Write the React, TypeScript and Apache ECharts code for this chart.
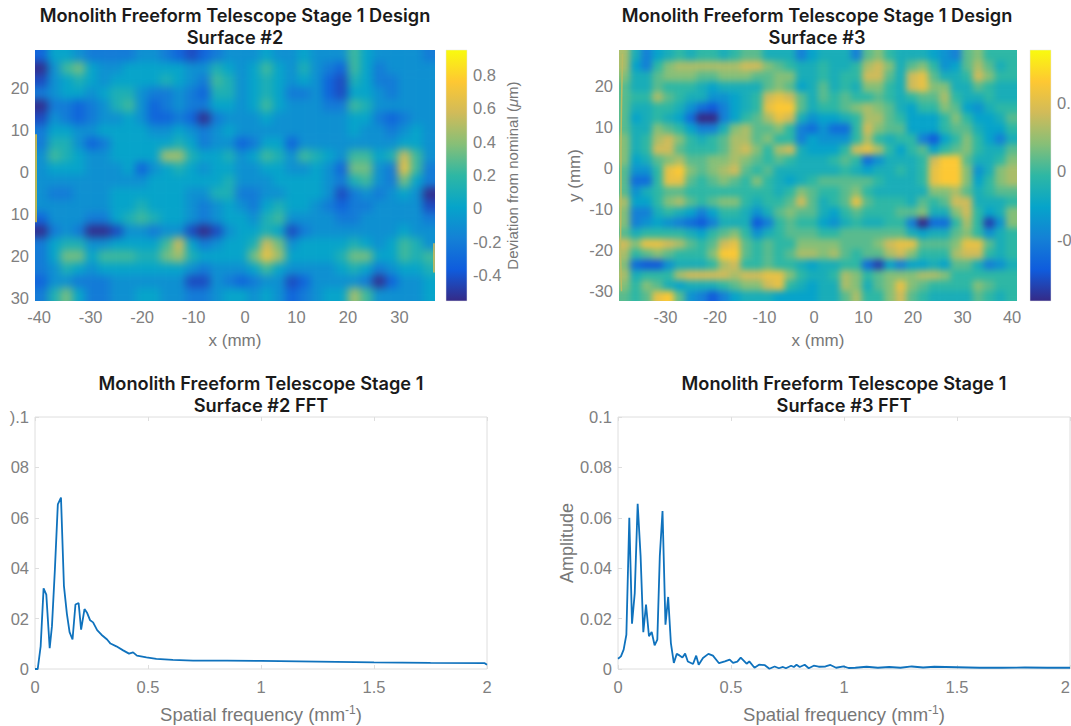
import React, { useEffect, useRef } from "react";
import * as echarts from "echarts";

const parula = ["#352a87", "#0f5cdd", "#1481d6", "#06a4ca", "#2eb7a4", "#87bf77", "#d1bb59", "#fec832", "#f9fb0e"];

// Surface #2, deviation in units of 0.1 um, rows top to bottom, columns left to right
const surface2: number[][] = [
  [-2,1,1,0,-1,-1,-1,-1,0,0,-1,-2,-3,-2,-1,0,0,0,1,0,0,1,0,0,0,3,1,0,0,0,0,-1],
  [-4,0,3,4,1,0,0,1,1,1,1,1,0,0,2,1,0,1,3,1,0,2,0,-1,-2,3,1,-1,0,0,0,0],
  [-3,0,1,2,1,0,1,1,1,1,2,1,0,-1,3,2,0,1,2,1,0,1,0,-2,-3,2,1,-1,-1,0,0,0],
  [-1,0,1,1,0,1,2,2,0,-1,-1,0,-1,-2,2,2,0,1,2,1,-1,-1,0,-2,-3,1,1,0,-1,0,0,0],
  [-4,-1,-1,-2,-1,0,2,3,0,-2,-1,0,-1,-1,1,1,0,1,3,1,0,0,0,-1,-1,3,2,0,0,0,0,0],
  [-3,0,-1,-2,-1,0,0,1,0,-2,-2,-1,-2,-4,-1,0,0,0,1,0,0,0,0,0,0,1,1,-1,-2,-1,0,0],
  [-1,1,1,0,0,1,1,1,1,0,0,1,0,-1,0,1,0,0,0,0,0,0,0,0,0,1,0,0,-1,0,1,0],
  [-1,2,2,0,-2,-1,1,1,1,1,1,2,1,-1,0,0,-2,-1,1,1,-2,0,0,0,0,0,0,0,0,1,1,0],
  [0,3,2,1,0,0,1,1,1,1,5,5,2,1,1,2,0,1,3,2,0,3,2,1,0,3,3,1,2,6,3,0],
  [0,1,1,1,0,0,0,1,-2,0,1,2,1,0,1,1,0,0,1,1,0,0,1,0,-2,4,4,0,-1,7,3,-1],
  [0,0,0,0,0,0,0,0,0,1,1,1,1,1,1,2,0,0,0,1,1,1,1,0,-1,2,3,0,-1,4,1,-1],
  [0,-1,-1,0,0,0,1,1,1,1,1,1,0,0,2,2,-1,-1,0,0,1,1,1,0,-3,-1,0,-1,0,1,0,-4],
  [0,0,0,0,0,0,1,1,2,1,1,1,0,-1,0,1,0,-1,1,2,1,1,0,-1,-2,-1,-1,0,0,0,0,-3],
  [-2,0,0,0,-1,-1,1,2,3,2,1,1,0,-1,0,1,1,0,2,3,0,0,0,0,-1,-1,0,0,0,0,0,-1],
  [-4,-1,0,-1,-4,-4,-3,0,0,-1,0,0,-3,-5,-3,0,1,1,2,1,-3,-1,0,0,0,0,0,0,0,1,0,0],
  [-1,1,2,2,0,0,1,1,1,1,3,6,1,-1,0,1,1,2,6,4,0,1,1,1,1,2,1,0,1,3,2,0],
  [-1,1,4,4,1,3,3,3,2,2,4,5,2,1,1,1,1,4,7,5,1,1,1,1,2,4,4,1,1,3,2,3],
  [-1,0,2,1,0,1,1,1,1,1,1,1,0,-1,0,0,0,1,3,1,0,0,0,0,1,2,1,-1,0,1,1,2],
  [-2,0,0,-1,-1,-1,0,0,0,0,0,0,-3,-3,0,-1,-2,-1,0,0,-3,-2,0,0,0,0,-1,-4,-2,0,0,1],
  [-1,2,4,1,-1,-1,0,0,1,1,0,0,-1,-1,0,1,1,0,1,0,-2,-1,0,1,1,5,3,0,0,0,0,1],
];

// Surface #3, same units
const surface3: number[][] = [
  [4,0,-3,-1,0,1,0,1,1,0,1,2,2,0,0,0,-3,-1,0,0,0,-3,2,3,1,0,0,0,-1,-2,-3,2,3,1,1,1],
  [4,-1,-3,1,3,4,4,4,4,4,4,5,5,3,2,1,0,0,1,0,0,1,4,5,3,0,2,3,1,-2,-1,2,4,2,0,1],
  [3,0,0,2,3,3,3,2,2,3,3,3,2,2,3,3,0,0,1,0,1,1,5,5,2,0,5,6,2,0,0,1,5,3,1,1],
  [2,0,0,2,1,1,1,0,-1,0,0,0,0,2,3,2,-1,0,2,0,1,0,3,3,1,0,5,6,3,3,0,0,2,1,0,0],
  [2,1,1,4,2,1,0,0,-2,-2,-1,0,1,5,6,5,2,0,2,1,2,1,1,2,1,0,1,2,2,4,1,0,0,1,0,0],
  [2,0,0,1,1,0,-2,-4,-5,-3,-1,0,1,6,7,7,2,0,1,1,2,3,4,3,2,0,-1,1,1,3,2,-1,-2,0,1,1],
  [2,-1,0,1,0,-1,-4,-9,-7,-3,-1,1,2,4,6,5,0,-2,-1,-1,0,1,4,4,2,1,-1,-1,-1,1,3,1,-1,-1,0,2],
  [2,0,0,3,2,1,-1,-3,-3,0,3,4,2,2,3,1,-3,-4,-2,-4,-4,1,5,3,2,2,-1,-1,-1,1,2,2,0,-1,-1,1],
  [3,0,1,4,5,3,1,0,1,2,4,4,2,3,1,1,-3,-1,-2,-2,-2,1,4,1,0,1,1,-3,-5,-1,1,3,1,-1,-3,0],
  [3,0,1,5,5,2,1,1,1,2,4,5,3,1,4,5,0,-1,-1,-1,1,5,6,4,1,-1,1,2,-1,1,2,3,1,0,0,2],
  [3,-1,0,2,3,4,2,2,3,3,4,3,2,1,2,1,0,0,0,1,2,1,-4,-2,0,0,0,1,5,7,7,2,0,0,1,3],
  [2,-2,-2,1,6,7,3,2,3,4,5,2,1,2,0,0,0,0,0,0,1,0,-1,0,0,1,0,1,6,7,7,3,-2,0,3,4],
  [2,-4,-4,1,6,6,2,1,2,3,2,1,3,1,0,-1,0,1,2,2,2,2,2,1,0,0,0,1,6,7,7,3,-1,1,3,4],
  [2,-2,0,1,2,2,1,1,1,1,1,1,1,1,0,1,3,2,1,1,2,3,1,0,0,0,0,0,3,3,4,2,0,1,2,2],
  [4,-1,-1,1,3,4,2,1,2,3,3,1,0,1,1,2,5,2,0,1,2,6,2,1,1,1,0,2,1,2,5,5,0,0,0,1],
  [3,-3,-3,0,1,0,-1,-3,-1,1,1,0,-2,0,2,3,2,2,0,-1,1,2,1,1,1,2,2,3,0,0,3,5,1,-1,0,3],
  [3,-3,-2,-1,-2,-3,-4,-5,-3,0,0,0,-5,-3,1,2,1,1,-1,-2,0,1,0,0,1,1,-3,-9,-4,-4,1,4,1,-6,-2,3],
  [2,0,1,1,1,1,0,-1,1,2,3,1,-2,0,1,2,2,2,1,1,2,2,2,2,2,2,0,-1,0,0,2,3,1,-2,0,1],
  [5,3,6,6,5,4,2,1,2,5,6,2,1,2,1,1,3,3,3,3,2,2,2,3,5,6,6,2,2,2,3,6,6,2,0,1],
  [4,1,2,3,2,1,1,1,3,7,7,2,1,2,1,2,4,4,3,4,2,1,2,2,4,5,3,1,1,1,4,5,5,1,0,1],
  [3,-4,-5,-5,-2,0,0,0,1,4,5,1,1,2,1,1,0,-1,0,0,1,1,-4,-6,-1,-3,-1,-1,0,-1,2,2,0,-3,-2,0],
  [4,0,1,1,1,4,5,5,5,5,4,5,5,6,6,3,1,0,0,1,4,3,1,2,3,3,3,4,4,3,1,1,1,1,1,1],
  [3,1,3,2,0,-1,0,0,0,1,2,3,3,5,6,1,0,-1,0,0,4,3,0,2,3,6,3,2,1,1,1,1,3,2,1,1],
  [2,1,2,6,7,2,-2,-3,-5,-3,-1,0,0,0,-1,-1,-1,-1,0,0,2,4,1,1,3,5,2,1,0,0,0,0,2,1,0,1],
];

const fft2Freq = [0,0.012,0.025,0.038,0.05,0.065,0.075,0.088,0.101,0.115,0.128,0.141,0.153,0.166,0.179,0.193,0.204,0.219,0.231,0.244,0.257,0.275,0.294,0.319,0.334,0.36,0.39,0.416,0.434,0.451,0.493,0.537,0.61,0.7,0.85,1,1.25,1.5,1.75,1.99,2];
const fft2Amp = [0,0,0.009,0.032,0.0295,0.0083,0.017,0.0395,0.0653,0.068,0.033,0.022,0.0146,0.0117,0.0256,0.0262,0.0156,0.0238,0.0222,0.0193,0.0185,0.0154,0.0136,0.0117,0.0101,0.009,0.0074,0.0061,0.0066,0.0053,0.0046,0.004,0.0036,0.0033,0.0033,0.0032,0.0029,0.0026,0.0024,0.0023,0.0017];

const fft3Freq = [0,0.013,0.025,0.037,0.05,0.062,0.074,0.087,0.1,0.112,0.124,0.137,0.149,0.162,0.174,0.185,0.197,0.21,0.222,0.234,0.247,0.26,0.272,0.285,0.297,0.309,0.332,0.346,0.357,0.376,0.4,0.42,0.447,0.473,0.494,0.509,0.528,0.543,0.569,0.581,0.604,0.624,0.65,0.67,0.693,0.712,0.73,0.743,0.766,0.778,0.79,0.804,0.826,0.844,0.866,0.888,0.918,0.94,0.965,0.998,1.02,1.05,1.1,1.15,1.2,1.25,1.3,1.35,1.4,1.45,1.5,1.6,1.7,1.8,1.9,2];
const fft3Amp = [0.0041,0.005,0.0077,0.0136,0.06,0.018,0.03,0.0656,0.0448,0.0146,0.0256,0.013,0.0147,0.0094,0.0117,0.0448,0.0627,0.0176,0.0286,0.0103,0.0024,0.006,0.0054,0.0046,0.0061,0.003,0.002,0.0053,0.0017,0.0044,0.006,0.0053,0.0023,0.003,0.0037,0.0024,0.0029,0.0045,0.0021,0.003,0.0005,0.0017,0.0015,0.0001,0.001,0.0003,0.0008,0.0003,0.0013,0.0008,0.0017,0.0008,0.0017,0.0003,0.0013,0.0009,0.001,0.0016,0.0005,0.001,0.0004,0.0005,0.0009,0.0005,0.0008,0.0005,0.001,0.0006,0.0009,0.0008,0.0007,0.0005,0.0005,0.0006,0.0005,0.0005];

const x2Ticks = [-40,-30,-20,-10,0,10,20,30];
const y2Ticks = [-30,-20,-10,0,10,20];
// the reference image is cropped at its left and right edges: these are the label parts it shows
const y2TickText = ["30","20","10","0","10","20"];
const x3Ticks = [-30,-20,-10,0,10,20,30,40];
const y3Ticks = [-30,-20,-10,0,10,20];
const bar2Ticks = [-0.4,-0.2,0,0.2,0.4,0.6,0.8];
const bar3Ticks = [-0.5,0,0.5];
const bar3TickText = ["-0","0","0."];
const ampTicks = [0,0.02,0.04,0.06,0.08,0.1];
const amp2TickText = ["0","02","04","06","08",").1"];

const FONT = '"Liberation Sans", sans-serif';
const TICK = "#808080";
const BOX2 = { left: 35, top: 50, width: 400, height: 251 };
const BOX3 = { left: 619, top: 50, width: 398, height: 251 };

function heatOption(rows: number[][], min: number, max: number, gain: number, base: number) {
  const nr = rows.length, nc = rows[0].length;
  const data: number[][] = [];
  for (let j = -1; j <= nr; j++) {
    for (let i = -1; i <= nc; i++) {
      const r = rows[Math.min(nr - 1, Math.max(0, j))];
      data.push([i + 1, j + 1, (r[Math.min(nc - 1, Math.max(0, i))] * gain + base) / 10]);
    }
  }
  const cats = (n: number) => Array.from({ length: n + 2 }, (_, k) => String(k));
  return {
    animation: false,
    grid: { left: 0, right: 0, top: 0, bottom: 0, outerBoundsMode: "none" },
    xAxis: { type: "category", data: cats(nc), show: false },
    yAxis: { type: "category", data: cats(nr), show: false, inverse: true },
    visualMap: { show: false, min, max, inRange: { color: parula }, dimension: 2 },
    series: [{ type: "heatmap", data, silent: true }],
  };
}

const pairs = (a: number[], b: number[]) => a.map((v, i) => [v, b[i]]);
const lookup = (ticks: number[], text: string[]) => (v: number) => {
  const k = ticks.findIndex((t) => Math.abs(t - v) < 1e-6);
  return k >= 0 ? text[k] : "";
};

function mainOption() {
  const grids = [
    BOX2,
    BOX3,
    { left: 446, top: 50, width: 21, height: 251 },
    { left: 1030, top: 50, width: 21, height: 251 },
    { left: 35, top: 417, width: 452, height: 252 },
    { left: 618, top: 417, width: 452, height: 252 },
  ].map((g, i) => ({ ...g, show: i >= 4, borderColor: "#dedede", borderWidth: 1, outerBoundsMode: "none" }));
  const label = { color: TICK, fontFamily: FONT, fontSize: 16.5 };
  const nameStyle = { color: "#777", fontFamily: FONT, fontSize: 17 };
  const sup = { rich: { sup: { fontSize: 12, color: "#777", fontFamily: FONT, verticalAlign: "top", padding: [0, 0, 8, 0] } } };
  const heatX = (gridIndex: number, min: number, max: number, ticks: number[]) => ({
    type: "value", gridIndex, min, max,
    axisLine: { show: false }, splitLine: { show: false },
    axisTick: { show: false },
    axisLabel: { ...label, margin: 7, customValues: ticks },
    name: "x (mm)", nameLocation: "middle", nameGap: 31, nameTextStyle: nameStyle,
  });
  const heatY = (gridIndex: number, min: number, max: number, ticks: number[], name?: string, text?: string[]) => ({
    type: "value", gridIndex, min, max,
    axisLine: { show: false }, splitLine: { show: false },
    axisTick: { show: false },
    axisLabel: { ...label, margin: 6, customValues: ticks, ...(text ? { formatter: lookup(ticks, text) } : {}) },
    ...(name ? { name, nameLocation: "middle", nameGap: 36, nameTextStyle: nameStyle } : {}),
  });
  const barX = (gridIndex: number) => ({ type: "value", gridIndex, min: 0, max: 1, show: false });
  const barY = (gridIndex: number, min: number, max: number, ticks: number[], name?: string, text?: string[]) => ({
    type: "value", gridIndex, min, max, position: "right",
    axisLine: { show: false }, splitLine: { show: false },
    axisTick: { show: false },
    axisLabel: { ...label, margin: 6, customValues: ticks, ...(text ? { formatter: lookup(ticks, text) } : {}) },
    ...(name ? {
      name, nameLocation: "middle", nameGap: 38, nameRotate: 90,
      nameTextStyle: { ...nameStyle, fontSize: 15, rich: { i: { fontStyle: "italic", fontSize: 15, color: "#777", fontFamily: FONT } } },
    } : {}),
  });
  const tick = { show: true, inside: true, length: 4, lineStyle: { color: "#dedede" } };
  const fftX = (gridIndex: number, alignRight?: boolean) => ({
    type: "value", gridIndex, min: 0, max: 2, interval: 0.5,
    axisLine: { show: false }, splitLine: { show: false }, axisTick: tick,
    axisLabel: { ...label, margin: 9, showMaxLabel: true, ...(alignRight ? { alignMaxLabel: "right" } : {}) },
    name: "Spatial frequency (mm{sup|-1})", nameLocation: "middle", nameGap: 35,
    nameTextStyle: { ...nameStyle, fontSize: 18.5, ...sup },
  });
  const fftTop = (gridIndex: number) => ({
    type: "value", gridIndex, min: 0, max: 2, interval: 0.5, position: "top",
    axisLine: { show: false }, splitLine: { show: false }, axisTick: tick, axisLabel: { show: false },
  });
  const fftY = (gridIndex: number, name?: string, text?: string[]) => ({
    type: "value", gridIndex, min: 0, max: 0.1, interval: 0.02,
    axisLine: { show: false }, splitLine: { show: false }, axisTick: tick,
    axisLabel: { ...label, margin: 6, ...(text ? { formatter: lookup(ampTicks, text) } : {}) },
    ...(name ? { name, nameLocation: "middle", nameGap: 42, nameTextStyle: { ...nameStyle, fontSize: 18 } } : {}),
  });
  const titleStyle = { color: "#1a1a1a", fontFamily: '"Inter", "Liberation Sans", sans-serif', fontSize: 18.2, fontWeight: 600, lineHeight: 22 };
  const mkTitle = (text: string, left: number, top: number) => ({ text, left, top, textAlign: "center", textStyle: titleStyle, padding: 0 });
  const stops = parula.slice().reverse().map((color, i) => ({ offset: i / (parula.length - 1), color }));
  const bar = (left: number) => ({
    type: "rect", x: left, y: 50, silent: true,
    shape: { width: 21, height: 251 },
    style: { fill: new echarts.graphic.LinearGradient(0, 0, 0, 1, stops), stroke: "#e4e4e4", lineWidth: 0.5 },
  });
  const line = (xAxisIndex: number, yAxisIndex: number, data: number[][]) => ({
    type: "line", xAxisIndex, yAxisIndex, data, showSymbol: false, symbol: "none", silent: true,
    lineStyle: { color: "#0f72bd", width: 1.8 },
  });
  const edge = (xAxisIndex: number, yAxisIndex: number, data: number[][], color: string) => ({
    type: "line", xAxisIndex, yAxisIndex, data, showSymbol: false, symbol: "none", silent: true,
    lineStyle: { color, width: 1.5 },
  });
  return {
    animation: false,
    title: [
      mkTitle("Monolith Freeform Telescope Stage 1 Design\nSurface #2", 235, 4),
      mkTitle("Monolith Freeform Telescope Stage 1 Design\nSurface #3", 817, 4),
      mkTitle("Monolith Freeform Telescope Stage 1\nSurface #2 FFT", 261, 372),
      mkTitle("Monolith Freeform Telescope Stage 1\nSurface #3 FFT", 844, 372),
    ],
    grid: grids,
    graphic: [bar(446), bar(1030)],
    xAxis: [
      heatX(0, -40.8, 36.9, x2Ticks),
      heatX(1, -39.4, 41, x3Ticks),
      barX(2), barX(3),
      fftX(4), fftX(5, true), fftTop(4), fftTop(5),
    ],
    yAxis: [
      heatY(0, -30.8, 29.1, y2Ticks, undefined, y2TickText),
      heatY(1, -32.4, 28.9, y3Ticks, "y (mm)"),
      barY(2, -0.556, 0.95, bar2Ticks, "Deviation from nominal ({i|\u03bc}m)"),
      barY(3, -0.95, 0.89, bar3Ticks, undefined, bar3TickText),
      fftY(4, undefined, amp2TickText), fftY(5, "Amplitude"),
    ],
    series: [
      line(4, 4, pairs(fft2Freq, fft2Amp)),
      line(5, 5, pairs(fft3Freq, fft3Amp)),
      edge(0, 0, [[-40.6, 9], [-40.6, -12]], "#f0c52e"),
      edge(0, 0, [[36.7, -17], [36.7, -24]], "#d9ba56"),
      edge(1, 1, [[-38.7, 28], [-38.9, 15], [-39, 5], [-39, -8], [-39.1, -20], [-38.9, -30]], "#b8bc64"),
    ],
  };
}

function Heat({ box, rows, min, max, blur, gain, base }: any) {
  const ref = useRef<HTMLDivElement>(null);
  const nr = rows.length, nc = rows[0].length;
  const cw = box.width / nc, ch = box.height / nr;
  useEffect(() => {
    const c = echarts.init(ref.current!, undefined, { renderer: "svg" });
    c.setOption(heatOption(rows, min, max, gain, base));
    return () => c.dispose();
  }, []);
  return (
    <div style={{ position: "absolute", ...box, overflow: "hidden" }}>
      <div ref={ref} style={{ position: "absolute", left: -cw, top: -ch, width: box.width + 2 * cw, height: box.height + 2 * ch, filter: `blur(${blur}px)` }} />
    </div>
  );
}

export default function App() {
  const ref = useRef<HTMLDivElement>(null);
  useEffect(() => {
    const c = echarts.init(ref.current!, undefined, { renderer: "svg" });
    c.setOption(mainOption());
    return () => c.dispose();
  }, []);
  return (
    <div style={{ position: "absolute", left: 0, top: 0, width: 1071, height: 726, overflow: "hidden", background: "#fff" }}>
      <Heat box={BOX2} rows={surface2} min={-0.556} max={0.95} blur={4.5} gain={1.1} base={-1} />
      <Heat box={BOX3} rows={surface3} min={-0.95} max={0.89} blur={3} gain={1.15} base={-1.5} />
      <div ref={ref} style={{ position: "absolute", left: 0, top: 0, width: 1071, height: 726 }} />
    </div>
  );
}
